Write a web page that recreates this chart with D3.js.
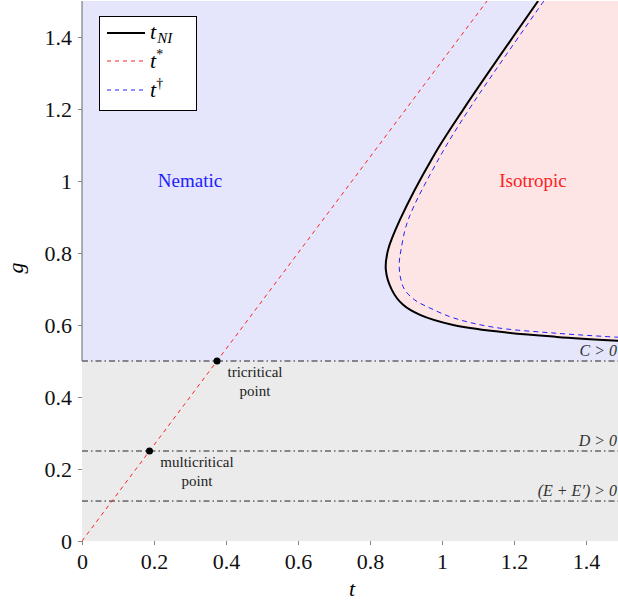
<!DOCTYPE html>
<html>
<head>
<meta charset="utf-8">
<script src="https://cdn.jsdelivr.net/npm/d3@7"></script>
<style>
  body { margin: 0; background: #fff; }
</style>
</head>
<body>
<div id="chart"></div>
<script>
// data
const tNI_t = [1.267, 1.058, 0.975, 0.883, 0.85, 0.844, 0.861, 0.892, 0.939, 1.031, 1.161, 1.319, 1.489]
const tNI_g = [1.5, 1.197, 1.067, 0.892, 0.808, 0.753, 0.697, 0.656, 0.628, 0.600, 0.581, 0.567, 0.556]

const tDag_t = [1.283, 1.081, 0.994, 0.906, 0.886, 0.881, 0.886, 0.897, 0.925, 0.967, 1.031, 1.142, 1.319, 1.489]
const tDag_g = [1.5, 1.208, 1.067, 0.892, 0.808, 0.767, 0.725, 0.697, 0.669, 0.647, 0.620, 0.594, 0.577, 0.566]

// t* : straight line g = 4t/3
const tStar_t = [0, 1.125]
const tStar_g = [0, 1.5]

// stability boundaries
const bound_g = [0.5, 0.25, 0.111]
const bound_lab = ['C > 0', 'D > 0', '(E + E\u2032) > 0']

// special points
const pts_t = [0.375, 0.1875]
const pts_g = [0.5, 0.25]
const pts_lab = [['tricritical', 'point'], ['multicritical', 'point']]

const xTicks = [0, 0.2, 0.4, 0.6, 0.8, 1, 1.2, 1.4]
const yTicks = [0, 0.2, 0.4, 0.6, 0.8, 1, 1.2, 1.4]

const SERIF = '"Liberation Serif", "DejaVu Serif", serif'

// sizes
const W = 618, H = 606
const pLeft = 82, pRight = 618, pTop = 1, pBottom = 541
const tMax = (pRight - pLeft) / 360

const svg = d3.select('#chart').append('svg')
    .attr('width', W).attr('height', H)

const x = d3.scaleLinear().domain([0, tMax]).range([pLeft, pRight])
const y = d3.scaleLinear().domain([0, 1.5]).range([pBottom, pTop])

svg.append('clipPath').attr('id', 'clip')
  .append('rect').attr('x', pLeft).attr('y', pTop)
  .attr('width', pRight - pLeft).attr('height', pBottom - pTop)

const plot = svg.append('g').attr('clip-path', 'url(#clip)')

// regions
plot.append('rect')
    .attr('x', pLeft).attr('y', y(1.5))
    .attr('width', pRight - pLeft).attr('height', y(0.5) - y(1.5))
    .attr('fill', '#e5e5fb')
plot.append('rect')
    .attr('x', pLeft).attr('y', y(0.5))
    .attr('width', pRight - pLeft).attr('height', y(0) - y(0.5))
    .attr('fill', '#ebebeb')

const nI = tNI_t.map((t, i) => [t, tNI_g[i]])
const dag = tDag_t.map((t, i) => [t, tDag_g[i]])

const line = d3.line().x(d => x(d[0])).y(d => y(d[1])).curve(d3.curveCatmullRom.alpha(0.5))

// isotropic fill
const gEnd = tNI_g[tNI_g.length - 1]
plot.append('path')
    .attr('d', line(nI) + `L${x(tMax + 0.05)},${y(gEnd)}L${x(tMax + 0.05)},${y(1.5)}Z`)
    .attr('fill', '#fde5e5')

// boundaries
bound_g.forEach((g, i) => {
    plot.append('line')
        .attr('x1', pLeft).attr('x2', pRight)
        .attr('y1', y(g)).attr('y2', y(g))
        .attr('stroke', '#222').attr('stroke-width', 1)
        .attr('stroke-dasharray', '6,3,1.5,3')
    svg.append('text')
        .attr('x', 617).attr('y', y(g) - 5)
        .attr('text-anchor', 'end')
        .attr('font-size', 16).attr('font-style', 'italic')
        .attr('fill', '#333')
        .text(bound_lab[i])
})

// left spine (upper part)
svg.append('line')
    .attr('x1', pLeft).attr('x2', pLeft)
    .attr('y1', pTop).attr('y2', y(0.5))
    .attr('stroke', '#666').attr('stroke-width', 1)

// curves
plot.append('path')
    .attr('d', line(tStar_t.map((t, i) => [t, tStar_g[i]])))
    .attr('fill', 'none').attr('stroke', '#ff2020').attr('stroke-width', 1)
    .attr('stroke-dasharray', '4,4')
plot.append('path')
    .attr('d', line(dag))
    .attr('fill', 'none').attr('stroke', '#2020ff').attr('stroke-width', 1)
    .attr('stroke-dasharray', '5,4')
plot.append('path')
    .attr('d', line(nI))
    .attr('fill', 'none').attr('stroke', '#000').attr('stroke-width', 2)

// points
const labDx = [38, 47.5]
pts_t.forEach((t, i) => {
    svg.append('circle')
        .attr('cx', x(t)).attr('cy', y(pts_g[i])).attr('r', 3.5)
        .attr('fill', '#000')
    pts_lab[i].forEach((s, j) => {
        svg.append('text')
            .attr('x', x(t) + labDx[i]).attr('y', y(pts_g[i]) + 16 + j * 19)
            .attr('text-anchor', 'middle')
            .attr('font-size', 15).attr('fill', '#222')
            .text(s)
    })
})

// region labels
svg.append('text').attr('x', 190).attr('y', y(1) + 6)
    .attr('text-anchor', 'middle').attr('font-size', 19).attr('fill', '#2020ff')
    .text('Nematic')
svg.append('text').attr('x', 533).attr('y', y(1) + 6)
    .attr('text-anchor', 'middle').attr('font-size', 19).attr('fill', '#ff2020')
    .text('Isotropic')

// axes
const xAxis = d3.axisBottom(x).tickValues(xTicks).tickFormat(d3.format('')).tickSize(4).tickSizeOuter(0)
const yAxis = d3.axisLeft(y).tickValues(yTicks).tickFormat(d3.format('')).tickSize(4).tickSizeOuter(0)

const gx = svg.append('g').attr('transform', `translate(0,${pBottom})`).call(xAxis)
gx.select('.domain').remove()
gx.selectAll('.tick line').attr('stroke', '#888')
gx.selectAll('.tick text').attr('font-size', 22).attr('fill', '#111').attr('dy', '0.95em')

const gy = svg.append('g').attr('transform', `translate(${pLeft},0)`).call(yAxis)
gy.select('.domain').remove()
gy.selectAll('.tick line').attr('stroke', '#888')
gy.selectAll('.tick text').attr('font-size', 22).attr('fill', '#111').attr('x', -10)

svg.append('text').attr('x', 352).attr('y', 596)
    .attr('text-anchor', 'middle').attr('font-size', 22).attr('font-style', 'italic')
    .text('t')
svg.append('text')
    .attr('transform', 'translate(23,268) rotate(-90)')
    .attr('text-anchor', 'middle').attr('font-size', 22).attr('font-style', 'italic')
    .text('g')

// legend
const lg = svg.append('g')
lg.append('rect').attr('x', 99.5).attr('y', 16.5).attr('width', 97).attr('height', 94)
    .attr('fill', '#fff').attr('stroke', '#000').attr('stroke-width', 1)
const legItems = [
    { stroke: '#000', w: 2, dash: null, y: 33 },
    { stroke: '#ff2020', w: 1, dash: '4,4', y: 61 },
    { stroke: '#2020ff', w: 1, dash: '4,4', y: 90 }
]
legItems.forEach(d => {
    lg.append('line').attr('x1', 107).attr('x2', 145).attr('y1', d.y).attr('y2', d.y)
        .attr('stroke', d.stroke).attr('stroke-width', d.w)
        .attr('stroke-dasharray', d.dash)
})
const t1 = lg.append('text').attr('x', 150).attr('y', 39).attr('font-size', 22).attr('font-style', 'italic')
t1.append('tspan').text('t')
t1.append('tspan').attr('font-size', 15).attr('dy', 4).attr('dx', 1).text('NI')
const t2 = lg.append('text').attr('x', 150).attr('y', 68).attr('font-size', 22).attr('font-style', 'italic')
t2.append('tspan').text('t')
t2.append('tspan').attr('font-size', 14).attr('dy', -9).attr('font-style', 'normal').text('*')
const t3 = lg.append('text').attr('x', 150).attr('y', 97).attr('font-size', 22).attr('font-style', 'italic')
t3.append('tspan').text('t')
t3.append('tspan').attr('font-size', 14).attr('dy', -9).attr('font-style', 'normal').text('\u2020')

// serif everywhere
svg.selectAll('text').style('font-family', SERIF)
svg.selectAll('g').attr('font-family', null)
</script>
</body>
</html>
